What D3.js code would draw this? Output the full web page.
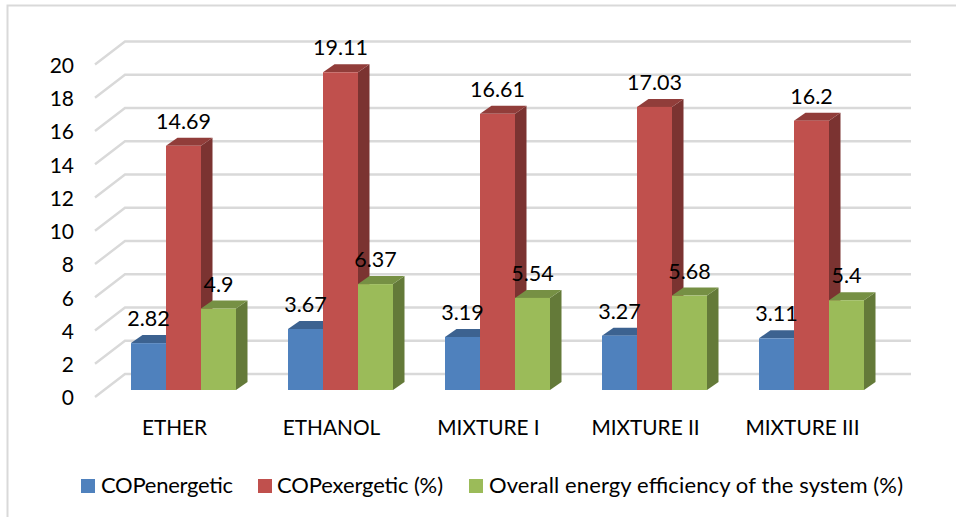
<!DOCTYPE html>
<html>
<head>
<meta charset="utf-8">
<script src="https://cdn.jsdelivr.net/npm/d3@7"></script>
<style>
  html, body { margin: 0; padding: 0; background: #fff; }
  text { font-family: Lato, "Open Sans", sans-serif; fill: #000; }
</style>
</head>
<body>
<div id="chart-container"></div>
<script>
const categories = ["ETHER", "ETHANOL", "MIXTURE I", "MIXTURE II", "MIXTURE III"];
const seriesNames = ["COPenergetic", "COPexergetic (%)", "Overall energy efficiency of the system (%)"];
const copEnergetic = [2.82, 3.67, 3.19, 3.27, 3.11];
const copExergetic = [14.69, 19.11, 16.61, 17.03, 16.2];
const overallEfficiency = [4.9, 6.37, 5.54, 5.68, 5.4];
const yTicks = [0, 2, 4, 6, 8, 10, 12, 14, 16, 18, 20];

const seriesValues = [copEnergetic, copExergetic, overallEfficiency];
const front = ["#4f81bd", "#c0504d", "#9bbb59"];
const top_ = ["#3c6290", "#913d3a", "#769044"];
const side = ["#335579", "#7b3331", "#647a39"];

const width = 956, height = 517;

const svg = d3.select("#chart-container")
  .append("svg")
  .attr("width", width)
  .attr("height", height)
  .style("display", "block");

// outer frame of the chart area
svg.append("path")
  .attr("d", "M7.5,517V5.5H956")
  .attr("fill", "none")
  .attr("stroke", "#d9d9d9")
  .attr("stroke-width", 2);

// value -> height above the floor
const y = d3.scaleLinear().domain([0, 20]).range([397, 64.5]);
const floorY = 390;
const h = v => y(0) - y(v);

// wall sits 30 right and 23 up from the axis line
const wallDx = 30, wallDy = -23;

const grid = svg.append("g")
  .attr("fill", "none")
  .attr("stroke", "#d9d9d9")
  .attr("stroke-width", 2.4);

yTicks.forEach(t => {
  grid.append("path")
    .attr("d", `M95,${y(t)}L${95 + wallDx},${y(t) + wallDy}H911`);
});

svg.append("g")
  .selectAll("text")
  .data(yTicks)
  .enter()
  .append("text")
  .attr("x", 74)
  .attr("y", d => y(d))
  .attr("dy", "0.4em")
  .attr("text-anchor", "end")
  .style("font-size", "21px")
  .text(d => d);

const x0 = d3.scaleBand()
  .domain(categories)
  .range([105, 890]);

const barW = 35;
const x1 = d3.scaleBand()
  .domain(d3.range(3))
  .range([0, barW * 3]);

const depthX = 11.5, depthY = -8;

const groups = svg.append("g")
  .selectAll("g")
  .data(categories)
  .enter()
  .append("g")
  .attr("transform", d => `translate(${x0(d) + (x0.bandwidth() - barW * 3) / 2},0)`);

// left to right, so each column covers the side face of the one before it
groups.each(function (cat, ci) {
  const g = d3.select(this);
  seriesValues.forEach((vals, si) => {
    const v = vals[ci];
    const bx = x1(si), top = floorY - h(v);
    const bar = g.append("g");
    bar.append("path") // side
      .attr("d", `M${bx + barW},${top}l${depthX},${depthY}V${floorY + depthY}L${bx + barW},${floorY}Z`)
      .attr("fill", side[si]);
    bar.append("path") // top
      .attr("d", `M${bx},${top}l${depthX},${depthY}h${barW}l${-depthX},${-depthY}Z`)
      .attr("fill", top_[si]);
    bar.append("rect") // front
      .attr("x", bx)
      .attr("y", top)
      .attr("width", barW)
      .attr("height", h(v))
      .attr("fill", front[si]);
  });
});

// data labels go on top of all the columns
groups.each(function (cat, ci) {
  const g = d3.select(this);
  seriesValues.forEach((vals, si) => {
    g.append("text")
      .attr("x", x1(si) + barW / 2)
      .attr("y", floorY - h(vals[ci]) - 17)
      .attr("text-anchor", "middle")
      .style("font-size", "21.5px")
      .text(vals[ci]);
  });
});

// category labels
svg.append("g")
  .selectAll("text")
  .data(categories)
  .enter()
  .append("text")
  .attr("x", d => x0(d) + x0.bandwidth() / 2 - 9)
  .attr("y", 435)
  .attr("text-anchor", "middle")
  .style("font-size", "20.8px")
  .text(d => d);

// legend
const legendX = [81, 258, 469];
const legendTextX = [20, 19, 20];
const legendTextW = [132, 166, 414]; // Lato runs a bit off Calibri, so fit each entry
const legend = svg.append("g")
  .selectAll("g")
  .data(seriesNames)
  .enter()
  .append("g")
  .attr("transform", (d, i) => `translate(${legendX[i]},479)`);

legend.append("rect")
  .attr("width", 14)
  .attr("height", 14)
  .attr("fill", (d, i) => front[i]);

legend.append("text")
  .attr("x", (d, i) => legendTextX[i])
  .attr("y", 14)
  .attr("textLength", (d, i) => legendTextW[i])
  .style("font-size", "22px")
  .text(d => d);
</script>
</body>
</html>
